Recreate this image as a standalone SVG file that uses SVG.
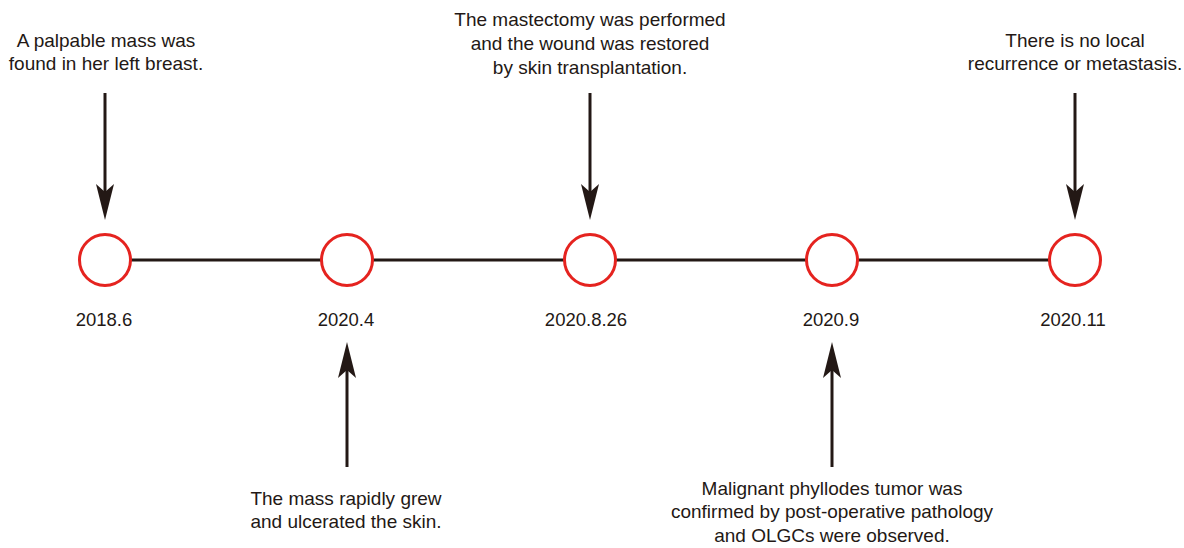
<svg xmlns="http://www.w3.org/2000/svg" width="1184" height="548" viewBox="0 0 1184 548">
<style>
text{font-family:"Liberation Sans",Arial,sans-serif;font-size:19px;fill:#231815;text-anchor:middle}
text.date{font-size:18.5px}
.node circle{fill:#fff;stroke:#e5231f;stroke-width:3}
.conn line{stroke:#231815;stroke-width:3}
.head{fill:#231815}
</style>
<defs>
<path id="ah" class="head" d="M0,0 L-9,-36 L0,-28 L9,-36 Z"/>
</defs>
<g class="conn" id="connectors">
<line x1="131" y1="260" x2="1049" y2="260"/>
<line x1="105" y1="93" x2="105" y2="200"/>
<use href="#ah" x="105" y="220"/>
<line x1="590" y1="93" x2="590" y2="200"/>
<use href="#ah" x="590" y="220"/>
<line x1="1075" y1="93" x2="1075" y2="200"/>
<use href="#ah" x="1075" y="220"/>
<line x1="347" y1="467" x2="347" y2="362"/>
<use href="#ah" transform="translate(347,342) rotate(180)"/>
<line x1="832" y1="467" x2="832" y2="362"/>
<use href="#ah" transform="translate(832,342) rotate(180)"/>
</g>
<g class="node" id="n2018-6">
<circle cx="105" cy="260" r="25.5"/>
<text class="date" x="104" y="326">2018.6</text>
<text x="106" y="47">A palpable mass was</text>
<text x="106" y="70">found in her left breast.</text>
</g>
<g class="node" id="n2020-4">
<circle cx="347" cy="260" r="25.5"/>
<text class="date" x="346" y="326">2020.4</text>
<text x="346" y="505">The mass rapidly grew</text>
<text x="346" y="528">and ulcerated the skin.</text>
</g>
<g class="node" id="n2020-8-26">
<circle cx="590" cy="260" r="25.5"/>
<text class="date" x="586" y="326">2020.8.26</text>
<text x="590" y="26">The mastectomy was performed</text>
<text x="590" y="50">and the wound was restored</text>
<text x="590" y="74">by skin transplantation.</text>
</g>
<g class="node" id="n2020-9">
<circle cx="832" cy="260" r="25.5"/>
<text class="date" x="831" y="326">2020.9</text>
<text x="832" y="495">Malignant phyllodes tumor was</text>
<text x="832" y="518">confirmed by post-operative pathology</text>
<text x="832" y="542">and OLGCs were observed.</text>
</g>
<g class="node" id="n2020-11">
<circle cx="1075" cy="260" r="25.5"/>
<text class="date" x="1073" y="326">2020.11</text>
<text x="1075" y="47">There is no local</text>
<text x="1075" y="70">recurrence or metastasis.</text>
</g>
</svg>
